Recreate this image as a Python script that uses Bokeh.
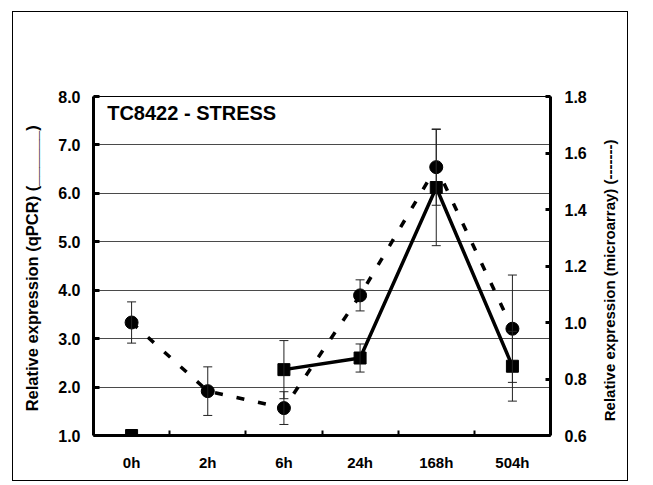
import math
import numpy as np
from bokeh.plotting import figure
from bokeh.layouts import row
from bokeh.models import (Range1d, LinearAxis, FixedTicker, NumeralTickFormatter,
                          ColumnDataSource, Whisker, TeeHead, Label)
from bokeh.embed import file_html
from bokeh.resources import INLINE

# ---- data ----
categories = ["0h", "2h", "6h", "24h", "168h", "504h"]
qpcr = [1.00, np.nan, 2.36, 2.60, 6.12, 2.43]
qpcr_sd = [0.0, np.nan, 0.60, 0.29, 1.20, 0.72]
microarray = [1.00, 0.757, 0.697, 1.096, 1.55, 0.978]
microarray_sd = [0.073, 0.086, 0.058, 0.055, 0.135, 0.19]
left_ticks = [1, 2, 3, 4, 5, 6, 7, 8]
right_ticks = [0.6, 0.8, 1.0, 1.2, 1.4, 1.6, 1.8]
chart_title = "TC8422 - STRESS"
left_title = "Relative expression (qPCR)  (______)"
right_title = "Relative expression (microarray)  (-------)"

FONT = "Liberation Sans"

n = len(categories)
xc = np.arange(n) + 0.5
bounds = list(range(1, n))

p = figure(width=577, height=468,
           x_range=Range1d(0, n), y_range=Range1d(left_ticks[0], left_ticks[-1]),
           output_backend="svg", toolbar_location=None,
           min_border_left=80, min_border_right=40,
           min_border_top=84, min_border_bottom=45)
p.background_fill_color = "white"
p.border_fill_color = "white"
p.outline_line_color = "black"
p.outline_line_width = 1

p.extra_y_ranges = {"right": Range1d(right_ticks[0], right_ticks[-1])}

# x axis
xa = p.xaxis[0]
xa.ticker = FixedTicker(ticks=list(xc), minor_ticks=bounds)
xa.major_label_overrides = {float(v): c for v, c in zip(xc, categories)}
xa.major_tick_in = 0
xa.major_tick_out = 0
xa.minor_tick_in = 5
xa.minor_tick_out = 0
xa.minor_tick_line_width = 2
xa.axis_line_width = 3
xa.major_label_standoff = 18
xa.major_label_text_font = FONT
xa.major_label_text_font_style = "bold"
xa.major_label_text_font_size = "15px"
xa.major_label_text_color = "black"

# left axis
ya = p.yaxis[0]
ya.ticker = FixedTicker(ticks=left_ticks, minor_ticks=[])
ya.formatter = NumeralTickFormatter(format="0.0")
ya.major_tick_in = 6
ya.major_tick_out = 0
ya.major_tick_line_width = 3
ya.axis_line_width = 3
ya.major_label_standoff = 13
ya.major_label_text_font = FONT
ya.major_label_text_font_style = "bold"
ya.major_label_text_font_size = "16px"
ya.major_label_text_color = "black"
ya.axis_label = left_title
ya.axis_label_standoff = 14
ya.axis_label_text_font = FONT
ya.axis_label_text_font_style = "bold"
ya.axis_label_text_font_size = "16.5px"
ya.axis_label_text_color = "black"

# right axis
ra = LinearAxis(y_range_name="right",
                ticker=FixedTicker(ticks=right_ticks, minor_ticks=[]),
                formatter=NumeralTickFormatter(format="0.0"))
ra.major_tick_in = 5
ra.major_tick_out = 0
ra.major_tick_line_width = 3
ra.axis_line_width = 3
ra.major_label_standoff = 14
ra.major_label_text_font = FONT
ra.major_label_text_font_style = "bold"
ra.major_label_text_font_size = "16px"
ra.major_label_text_color = "black"
p.add_layout(ra, "right")

# grid
p.xgrid.visible = False
p.ygrid.ticker = FixedTicker(ticks=left_ticks, minor_ticks=[])
p.ygrid.grid_line_color = "#4a4a4a"
p.ygrid.grid_line_width = 1

# error bars
q = np.array(qpcr)
qs = np.array(qpcr_sd)
m = np.array(microarray)
ms = np.array(microarray_sd)
okq = ~np.isnan(q) & ~np.isnan(qs) & (qs > 0)
src_qe = ColumnDataSource(dict(x=xc[okq], lo=(q - qs)[okq], hi=(q + qs)[okq]))
src_me = ColumnDataSource(dict(x=xc, lo=m - ms, hi=m + ms))

for src, rname in ((src_me, "right"), (src_qe, "default")):
    w = Whisker(base="x", lower="lo", upper="hi", source=src, dimension="height",
                y_range_name=rname, line_color="#222222", line_width=1,
                upper_head=TeeHead(size=9, line_color="#222222", line_width=1),
                lower_head=TeeHead(size=9, line_color="#222222", line_width=1),
                level="glyph")
    p.add_layout(w)

# lines
p.line(xc, m, y_range_name="right", line_color="black", line_width=3.5,
       line_dash="8 14")
p.line(xc, q, line_color="black", line_width=3.5)

# markers
p.scatter(xc, m, y_range_name="right", marker="circle", size=13,
          fill_color="black", line_color="black")
okm = ~np.isnan(q)
p.scatter(xc[okm], q[okm], marker="square", size=12,
          fill_color="black", line_color="black")

# chart title
p.add_layout(Label(x=0.18, y=7.65, text=chart_title, text_baseline="middle",
                   text_font=FONT, text_font_style="bold",
                   text_font_size="20px", text_color="black"))

# narrow companion figure holding the right axis title (reading bottom to top)
p2 = figure(width=37, height=468, x_range=Range1d(0, 1), y_range=Range1d(0, 1),
            output_backend="svg", toolbar_location=None,
            min_border_left=0, min_border_right=0,
            min_border_top=0, min_border_bottom=0)
p2.axis.visible = False
p2.grid.visible = False
p2.outline_line_color = None
p2.background_fill_color = "white"
p2.border_fill_color = "white"
p2.add_layout(Label(x=0.5, y=0.4637, text=right_title, angle=math.pi / 2,
                    text_align="center", text_baseline="middle",
                    text_font=FONT, text_font_style="bold",
                    text_font_size="15px", text_color="black"))

page = row(p, p2, spacing=0)
page.styles = {"margin-left": "13px", "margin-top": "12px",
               "box-shadow": "0 0 0 1px black"}

open("out.html", "w").write(file_html(page, INLINE))
